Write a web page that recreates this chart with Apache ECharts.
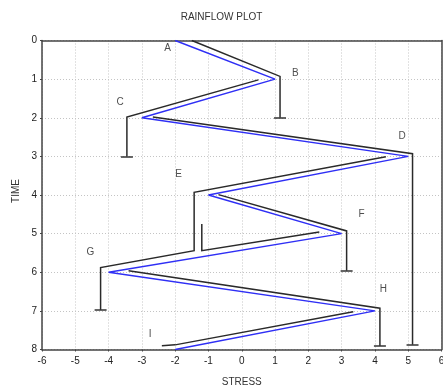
<!DOCTYPE html>
<html>
<head>
<meta charset="utf-8">
<script src="https://cdn.jsdelivr.net/npm/echarts@6/dist/echarts.min.js"></script>
<style>
  html, body { margin: 0; padding: 0; background: #fff; }
  #chart { width: 443px; height: 387px; }
</style>
</head>
<body>
<div id="chart"></div>
<script>
// Load history: turning points, stress at each unit of time
const loadTimes  = [0, 1, 2, 3, 4, 5, 6, 7, 8];
const loadStress = [-2, 1, -3, 5, -1, 3, -4, 4, -2];

// Rainflow paths as [stress, time] vertices (roof run, then drip)
const pathA = [[-1.5, 0], [1.15, 0.93], [1.15, 2.0]];
const pathB = [[0.5, 1.02], [-3.45, 1.98], [-3.45, 3.0]];
const pathC = [[-2.67, 1.98], [5.13, 2.93], [5.13, 7.88]];
const pathD = [[4.33, 3.01], [-1.43, 3.93], [-1.43, 5.44], [-4.24, 5.88], [-4.24, 6.98]];
const pathE = [[-0.7, 3.99], [3.15, 4.93], [3.15, 5.96]];
const pathF = [[2.33, 4.96], [-1.2, 5.44], [-1.2, 4.75]];
const pathG = [[-3.4, 5.96], [4.15, 6.93], [4.15, 7.91]];
const pathH = [[3.35, 7.02], [-2.0, 7.88], [-2.4, 7.9]];

// Drip end points that get a stop bar
const dripEnds = [[1.15, 2.0], [-3.45, 3.0], [5.13, 7.88], [-4.24, 6.98], [3.15, 5.96], [4.15, 7.91]];

// Turning point names and where each name sits
const pointNames = ['A', 'B', 'C', 'D', 'E', 'F', 'G', 'H', 'I'];
const nameAnchors = [[-2.23, 0.2], [1.61, 0.86], [-3.65, 1.61], [4.82, 2.47], [-1.9, 3.46],
                     [3.6, 4.49], [-4.55, 5.47], [4.25, 6.44], [-2.75, 7.6]];

const xTicks = [-6, -5, -4, -3, -2, -1, 0, 1, 2, 3, 4, 5, 6];
const yTicks = [0, 1, 2, 3, 4, 5, 6, 7, 8];

const CAP_HALF = 0.18;
const paths = [pathA, pathB, pathC, pathD, pathE, pathF, pathG, pathH];
const capSegments = dripEnds.map(p => [[p[0] - CAP_HALF, p[1]], [p[0] + CAP_HALF, p[1]]]);

const chart = echarts.init(document.getElementById('chart'), null, { renderer: 'canvas' });
const FONT = 'Liberation Sans, Arial, sans-serif';
const gridLine = { show: true, lineStyle: { color: '#c4c4c4', type: [1, 2], width: 1 } };
const frameLine = { show: true, onZero: false, lineStyle: { color: '#444', width: 1.5 } };

chart.setOption({
  animation: false,
  backgroundColor: '#fff',
  title: {
    text: 'RAINFLOW PLOT',
    left: 'center',
    top: 7,
    textStyle: { fontFamily: FONT, fontSize: 10, fontWeight: 'normal', color: '#333' }
  },
  grid: {
    left: 42, right: 1.5, top: 40.5, bottom: 37.5,
    containLabel: false, outerBoundsMode: 'none'
  },
  xAxis: [{
    type: 'value', position: 'bottom',
    min: xTicks[0], max: xTicks[xTicks.length - 1], interval: 1,
    name: 'STRESS', nameLocation: 'middle', nameGap: 28,
    nameTextStyle: { fontFamily: FONT, fontSize: 10, color: '#333' },
    axisLine: frameLine,
    axisTick: { show: true, length: 2, lineStyle: { color: '#444' } },
    axisLabel: { fontFamily: FONT, fontSize: 10, color: '#222', margin: 7,
                 formatter: v => String(v) },
    splitLine: gridLine
  }, {
    type: 'value', position: 'top',
    min: xTicks[0], max: xTicks[xTicks.length - 1], interval: 1,
    axisLine: frameLine, axisTick: { show: false }, axisLabel: { show: false },
    splitLine: { show: false }
  }],
  yAxis: [{
    type: 'value', inverse: true, position: 'left',
    min: yTicks[0], max: yTicks[yTicks.length - 1], interval: 1,
    axisLine: frameLine,
    axisTick: { show: true, length: 2, lineStyle: { color: '#444' } },
    axisLabel: { fontFamily: FONT, fontSize: 10, color: '#222', margin: 5 },
    splitLine: gridLine
  }, {
    type: 'value', inverse: true, position: 'right',
    min: yTicks[0], max: yTicks[yTicks.length - 1], interval: 1,
    axisLine: frameLine, axisTick: { show: false }, axisLabel: { show: false },
    splitLine: { show: false }
  }],
  graphic: [{
    type: 'text', x: 16, y: 191, rotation: Math.PI / 2,
    style: { text: 'TIME', fontFamily: FONT, fontSize: 10, fill: '#333',
             textAlign: 'center', textVerticalAlign: 'middle' }
  }],
  series: [
    {
      name: 'load',
      type: 'line',
      data: loadTimes.map((t, i) => [loadStress[i], t]),
      showSymbol: false,
      lineStyle: { color: '#2f2ff5', width: 1.5 },
      z: 3
    },
    {
      name: 'rainflow',
      type: 'lines',
      coordinateSystem: 'cartesian2d',
      polyline: true,
      data: paths.map(p => ({ coords: p })),
      lineStyle: { color: '#2a2a2a', width: 1.5, opacity: 1 },
      z: 4
    },
    {
      name: 'stops',
      type: 'lines',
      coordinateSystem: 'cartesian2d',
      data: capSegments.map(c => ({ coords: c })),
      lineStyle: { color: '#333', width: 1.5, opacity: 1 },
      z: 4
    },
    {
      name: 'names',
      type: 'scatter',
      data: nameAnchors,
      symbolSize: 0,
      label: {
        show: true, position: 'inside',
        formatter: p => pointNames[p.dataIndex],
        fontFamily: FONT, fontSize: 10, color: '#222'
      },
      z: 5
    }
  ]
});
</script>
</body>
</html>
